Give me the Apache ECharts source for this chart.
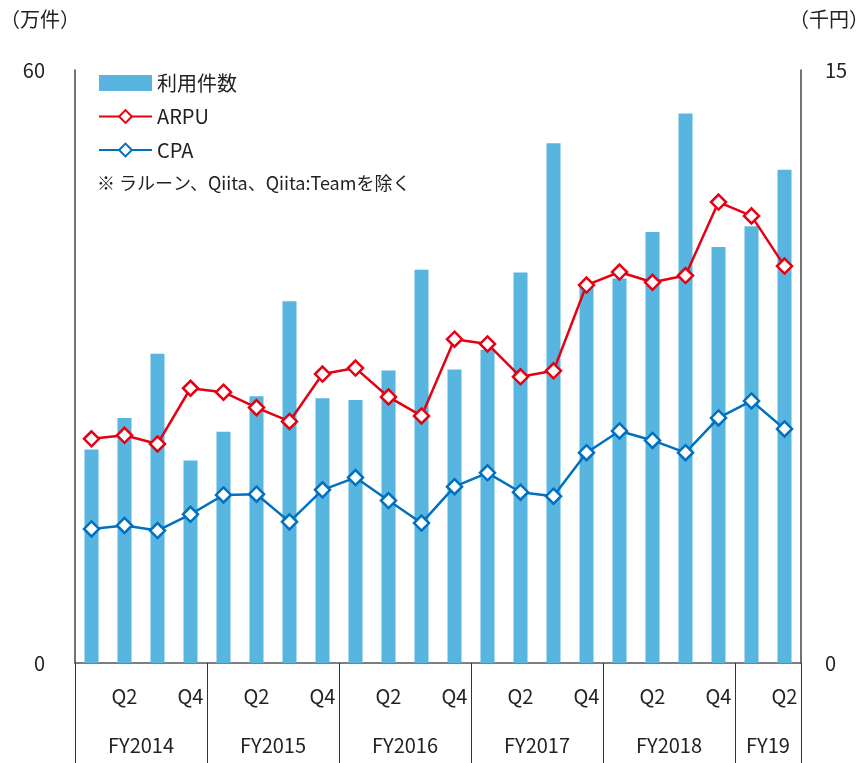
<!DOCTYPE html>
<html lang="ja">
<head>
<meta charset="UTF-8">
<title>利用件数・ARPU・CPA</title>
<style>
  html, body { margin: 0; padding: 0; background: #fff; }
  #main { width: 865px; height: 763px; }
</style>
</head>
<body>
<div id="main"></div>
<script src="https://cdn.jsdelivr.net/npm/echarts@6/dist/echarts.min.js"></script>
<script>
// 四半期 (FY2014 Q1 - FY19 Q2)
var quarters = ['Q1', 'Q2', 'Q3', 'Q4', 'Q1', 'Q2', 'Q3', 'Q4', 'Q1', 'Q2', 'Q3', 'Q4',
                'Q1', 'Q2', 'Q3', 'Q4', 'Q1', 'Q2', 'Q3', 'Q4', 'Q1', 'Q2'];
var years = ['FY2014', 'FY2015', 'FY2016', 'FY2017', 'FY2018', 'FY19'];
var quartersPerYear = [4, 4, 4, 4, 4, 2];

// 利用件数（万件）
var usage = [21.6, 24.8, 31.3, 20.5, 23.4, 27.0, 36.6, 26.8, 26.6, 29.6, 39.8, 29.7,
             31.7, 39.5, 52.6, 38.4, 38.9, 43.6, 55.6, 42.1, 44.2, 49.9];
// ARPU（千円）
var arpu = [5.67, 5.76, 5.54, 6.95, 6.85, 6.46, 6.11, 7.31, 7.46, 6.73, 6.25, 8.19,
            8.07, 7.24, 7.39, 9.56, 9.89, 9.63, 9.80, 11.66, 11.31, 10.04];
// CPA（千円）
var cpa = [3.39, 3.48, 3.35, 3.76, 4.25, 4.27, 3.57, 4.38, 4.69, 4.11, 3.54, 4.46,
           4.81, 4.32, 4.22, 5.32, 5.87, 5.63, 5.32, 6.20, 6.63, 5.92];

var FONT = '"Noto Sans CJK JP", "Noto Sans", sans-serif';
var TEXT = '#222';

// 年度の区切り位置とラベル中心
var yearBounds = [0], yearCenters = [];
quartersPerYear.forEach(function (n) {
    var start = yearBounds[yearBounds.length - 1];
    yearCenters.push(start + n / 2);
    yearBounds.push(start + n);
});

var chart = echarts.init(document.getElementById('main'));

var option = {
    animation: false,
    textStyle: { fontFamily: FONT },
    grid: { left: 75, right: 64, top: 70, bottom: 100 },
    legend: {
        orient: 'vertical',
        left: 98,
        top: 73,
        padding: 0,
        itemWidth: 53,
        itemHeight: 16,
        itemGap: 13.5,
        textStyle: { fontSize: 20, color: TEXT, fontFamily: FONT },
        data: [
            { name: '利用件数', icon: 'rect' },
            { name: 'ARPU' },
            { name: 'CPA' }
        ]
    },
    graphic: [
        { type: 'text', left: 97, top: 174,
          style: { text: '※ ラルーン、Qiita、Qiita:Teamを除く', fontSize: 18, fill: TEXT, fontFamily: FONT } },
        { type: 'text', left: 0, top: 9,
          style: { text: '（万件）', fontSize: 20, fill: TEXT, fontFamily: FONT } },
        { type: 'text', right: -4, top: 9,
          style: { text: '（千円）', fontSize: 20, fill: TEXT, fontFamily: FONT } }
    ],
    xAxis: [
        {
            type: 'category',
            data: quarters,
            axisLine: { lineStyle: { color: '#555', width: 1.5 } },
            axisTick: { show: false },
            axisLabel: {
                interval: 0,
                margin: 23,
                fontSize: 20,
                color: TEXT,
                formatter: function (v) { return (v === 'Q2' || v === 'Q4') ? v : ''; }
            },
            splitLine: { show: false }
        },
        {
            type: 'value',
            position: 'bottom',
            min: 0,
            max: quarters.length,
            axisLine: { show: false },
            axisTick: {
                show: true,
                customValues: yearBounds,
                length: 100,
                lineStyle: { color: '#333', width: 1 }
            },
            axisLabel: {
                customValues: yearCenters,
                margin: 72,
                fontSize: 20,
                color: TEXT,
                formatter: function (v) {
                    var i = yearCenters.indexOf(v);
                    return i >= 0 ? years[i] : '';
                }
            },
            splitLine: { show: false }
        }
    ],
    yAxis: [
        {
            type: 'value',
            min: 0, max: 60, interval: 60,
            axisLine: { show: true, lineStyle: { color: '#444', width: 1.5 } },
            axisTick: { show: false },
            axisLabel: { fontSize: 20, color: TEXT, margin: 30 },
            splitLine: { show: false }
        },
        {
            type: 'value',
            min: 0, max: 15, interval: 15,
            position: 'right',
            axisLine: { show: true, lineStyle: { color: '#444', width: 1.5 } },
            axisTick: { show: false },
            axisLabel: { fontSize: 20, color: TEXT, margin: 24 },
            splitLine: { show: false }
        }
    ],
    series: [
        {
            name: '利用件数',
            type: 'bar',
            yAxisIndex: 0,
            barWidth: 14,
            itemStyle: { color: '#57b5e0' },
            data: usage
        },
        {
            name: 'ARPU',
            type: 'line',
            yAxisIndex: 1,
            symbol: 'diamond',
            symbolSize: 15,
            lineStyle: { color: '#e60012', width: 2.5 },
            itemStyle: { color: '#fff', borderColor: '#e60012', borderWidth: 2.5 },
            data: arpu
        },
        {
            name: 'CPA',
            type: 'line',
            yAxisIndex: 1,
            symbol: 'diamond',
            symbolSize: 15,
            lineStyle: { color: '#0070c0', width: 2.5 },
            itemStyle: { color: '#fff', borderColor: '#0070c0', borderWidth: 2.5 },
            data: cpa
        }
    ]
};

chart.setOption(option);
</script>
</body>
</html>
